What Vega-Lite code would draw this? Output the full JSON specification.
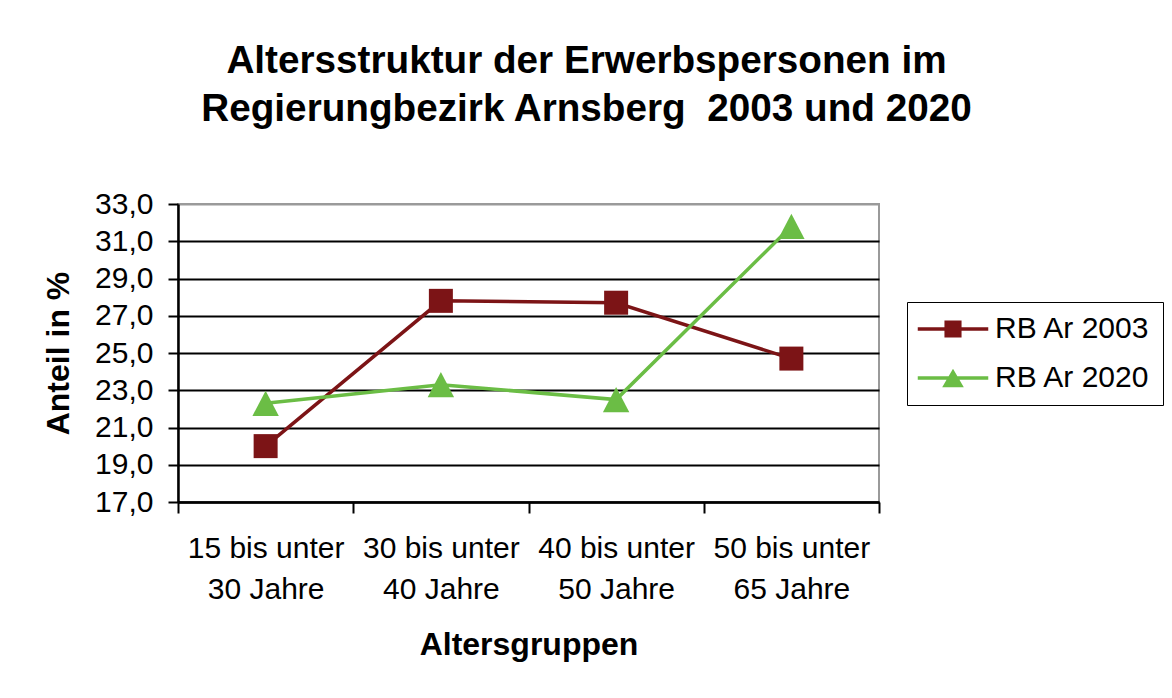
{
  "$schema": "https://vega.github.io/schema/vega-lite/v6.json",
  "autosize": {"type": "none"},
  "padding": {"left": 178, "top": 204, "right": 293, "bottom": 196},
  "width": 701,
  "height": 298,
  "background": "white",
  "config": {
    "font": "Liberation Sans",
    "view": {"stroke": "#9a9a9a", "strokeWidth": 2}
  },
  "title": {
    "text": ["Altersstruktur der Erwerbspersonen im", "Regierungbezirk Arnsberg\u00a0 2003 und 2020"],
    "font": "Liberation Sans",
    "fontSize": 38.7,
    "fontWeight": "bold",
    "color": "black",
    "anchor": "middle",
    "dx": 58,
    "lineHeight": 48,
    "baseline": "bottom",
    "offset": 21
  },
  "data": {
    "values": [
      {"Altersgruppe": "15 bis unter 30 Jahre", "Serie": "RB Ar 2003", "Anteil": 20.0},
      {"Altersgruppe": "30 bis unter 40 Jahre", "Serie": "RB Ar 2003", "Anteil": 27.8},
      {"Altersgruppe": "40 bis unter 50 Jahre", "Serie": "RB Ar 2003", "Anteil": 27.7},
      {"Altersgruppe": "50 bis unter 65 Jahre", "Serie": "RB Ar 2003", "Anteil": 24.7},
      {"Altersgruppe": "15 bis unter 30 Jahre", "Serie": "RB Ar 2020", "Anteil": 22.3},
      {"Altersgruppe": "30 bis unter 40 Jahre", "Serie": "RB Ar 2020", "Anteil": 23.3},
      {"Altersgruppe": "40 bis unter 50 Jahre", "Serie": "RB Ar 2020", "Anteil": 22.5},
      {"Altersgruppe": "50 bis unter 65 Jahre", "Serie": "RB Ar 2020", "Anteil": 31.8}
    ]
  },
  "encoding": {
    "x": {
      "field": "Altersgruppe",
      "type": "nominal",
      "sort": null,
      "scale": {"type": "band", "paddingInner": 0, "paddingOuter": 0},
      "axis": {
        "title": "Altersgruppen",
        "titleFont": "Liberation Sans",
        "titleFontSize": 32,
        "titleFontWeight": "bold",
        "titleColor": "black",
        "titlePadding": 25,
        "labelAngle": 0,
        "labelFont": "Liberation Sans",
        "labelFontSize": 30,
        "labelColor": "black",
        "labelLineHeight": 41,
        "labelPadding": 20,
        "labelLimit": 400,
        "labelExpr": "[substring(datum.label, 0, 12), substring(datum.label, 13)]",
        "tickBand": "extent",
        "tickSize": 11,
        "tickColor": "black",
        "tickWidth": 2,
        "domainColor": "black",
        "domainWidth": 2.5,
        "grid": false
      }
    },
    "y": {
      "field": "Anteil",
      "type": "quantitative",
      "scale": {"domain": [17, 33], "nice": false, "zero": false},
      "axis": {
        "title": "Anteil in %",
        "titleFont": "Liberation Sans",
        "titleFontSize": 32,
        "titleFontWeight": "bold",
        "titleColor": "black",
        "titlePadding": 19,
        "values": [17, 19, 21, 23, 25, 27, 29, 31, 33],
        "labelExpr": "replace(format(datum.value, '.1f'), '.', ',')",
        "labelFont": "Liberation Sans",
        "labelFontSize": 30,
        "labelColor": "black",
        "labelPadding": 15,
        "tickSize": 10,
        "tickColor": "black",
        "tickWidth": 2,
        "domainColor": "black",
        "domainWidth": 2.5,
        "grid": true,
        "gridColor": {"condition": {"test": "datum.value == 33", "value": "#9a9a9a"}, "value": "black"},
        "gridWidth": 2
      }
    },
    "color": {
      "field": "Serie",
      "type": "nominal",
      "scale": {"domain": ["RB Ar 2003", "RB Ar 2020"], "range": ["#7c1416", "#6bbd45"]},
      "legend": {
        "title": null,
        "orient": "none",
        "legendX": 729,
        "legendY": 98,
        "padding": 12,
        "strokeColor": "black",
        "fillColor": "white",
        "labelFont": "Liberation Sans",
        "labelFontSize": 30,
        "labelColor": "black",
        "labelLimit": 400,
        "labelOffset": 27,
        "symbolOffset": 19,
        "symbolSize": 900,
        "rowPadding": 19,
        "symbolOpacity": 1,
        "encode": {
          "symbols": {
            "update": {
              "shape": {"signal": "datum.value === 'RB Ar 2003' ? 'M-2.35,-0.12H2.35V0.12H-2.35Z M-0.57,-0.57H0.57V0.57H-0.57Z' : 'M-2.35,-0.12H2.35V0.12H-2.35Z M0,-0.62L0.72,0.62H-0.72Z'"},
              "fill": {"signal": "datum.value === 'RB Ar 2003' ? '#7c1416' : '#6bbd45'"},
              "stroke": {"value": "transparent"},
              "strokeWidth": {"value": 0},
              "opacity": {"value": 1}
            }
          }
        }
      }
    }
  },
  "layer": [
    {
      "mark": {"type": "line", "strokeWidth": 3.5}
    },
    {
      "transform": [{"filter": "datum.Serie === 'RB Ar 2003'"}],
      "mark": {"type": "point", "filled": true, "size": 576, "opacity": 1, "shape": "square"}
    },
    {
      "transform": [{"filter": "datum.Serie === 'RB Ar 2020'"}],
      "mark": {"type": "point", "filled": true, "size": 576, "opacity": 1, "shape": "M0,-1.05L1.1,1.05H-1.1Z"}
    }
  ]
}
